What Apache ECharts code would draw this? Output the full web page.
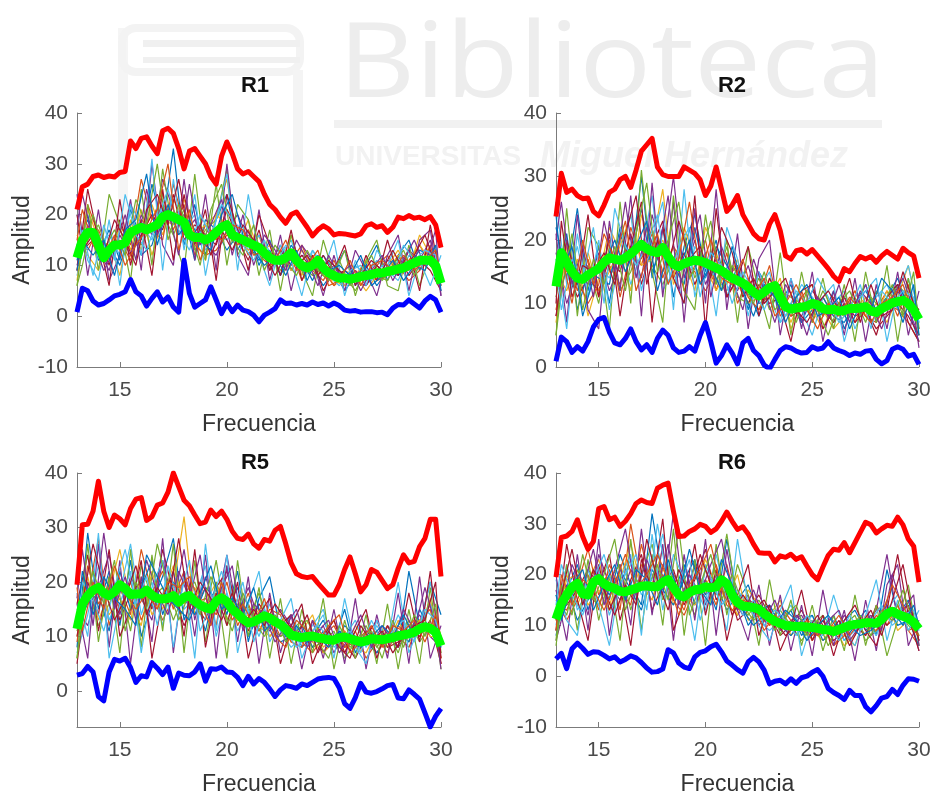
<!DOCTYPE html>
<html>
<head>
<meta charset="utf-8">
<title>Amplitud vs Frecuencia</title>
<script src="https://cdn.jsdelivr.net/npm/echarts@6/dist/echarts.min.js"></script>
<style>
  html, body { margin: 0; padding: 0; background: #ffffff; }
  #chart { width: 935px; height: 797px; }
</style>
</head>
<body>
<div id="chart"></div>
<script>
// Frequency grids (Hz): fine grid for the envelope/mean curves, two interleaved coarse grids for single trials
const freqFine = [13,13.25,13.5,13.75,14,14.25,14.5,14.75,15,15.25,15.5,15.75,16,16.25,16.5,16.75,17,17.25,17.5,17.75,
  18,18.25,18.5,18.75,19,19.25,19.5,19.75,20,20.25,20.5,20.75,21,21.25,21.5,21.75,22,22.25,22.5,22.75,
  23,23.25,23.5,23.75,24,24.25,24.5,24.75,25,25.25,25.5,25.75,26,26.25,26.5,26.75,27,27.25,27.5,27.75,
  28,28.25,28.5,28.75,29,29.25,29.5,29.75,30];
const freqCoarse = [13,13.5,14,14.5,15,15.5,16,16.5,17,17.5,18,18.5,19,19.5,20,20.5,21,21.5,22,22.5,
  23,23.5,24,24.5,25,25.5,26,26.5,27,27.5,28,28.5,29,29.5,30];
const freqShifted = [13,13.25,13.75,14.25,14.75,15.25,15.75,16.25,16.75,17.25,17.75,18.25,18.75,19.25,19.75,20.25,
  20.75,21.25,21.75,22.25,22.75,23.25,23.75,24.25,24.75,25.25,25.75,26.25,26.75,27.25,27.75,28.25,28.75,29.25,29.75,30];

const panelNames = ['R1', 'R2', 'R5', 'R6'];
const xTicks = [15, 20, 25, 30];
const yTicksR1 = [-10, 0, 10, 20, 30, 40];
const yTicksR2 = [0, 10, 20, 30, 40];
const yTicksR5 = [0, 10, 20, 30, 40];
const yTicksR6 = [-10, 0, 10, 20, 30, 40];
const yRangeR1 = [-10, 40];
const yRangeR2 = [0, 40];
const yRangeR5 = [-6.6, 40];
const yRangeR6 = [-10, 40];

// ---------- R1 ----------
const r1Upper = [21,25.5,26,27.5,27.8,27.3,27.6,27.4,28.3,28.5,34.5,33,35,35.3,33.5,32,36.5,37,36,33,
  29,32.5,33,31.5,30,27.5,26,31.5,34.3,32,29,28,28.5,27.5,26.5,24,22,21,19.5,18.3,
  20,20.5,19,17.5,15.8,17,17.8,17.2,16,16.3,16.2,16,15.8,16.2,17.8,18.2,17.5,17.8,16.5,17.5,
  19.5,19.2,19.8,19.3,19.5,19,19.6,18,13.5];
const r1Mean = [11.5,15,16.5,16.5,14,11.5,13,14,14,14.5,16.5,17,17.5,17,17.5,18,19.5,20,19.5,19,
  18.5,16,15.5,15.5,15,15.5,16.5,17.5,18,16,15.5,15,14.5,14,13.5,12.5,11.5,11,11,11.5,
  12.5,11,10,9.5,10,11,9.5,8.5,8,7.5,7.5,7.3,7.5,7.8,8,8.2,8.5,8.5,8.8,9,
  9.3,9.5,10,10.5,11,11,11,10,6.5];
const r1Lower = [0.8,5.5,5,3,2.2,2.5,3.2,4,4.3,4.8,7.2,4.8,4,2,3.5,4.8,2.8,3.8,1.8,0.8,
  11,4.5,1.8,2.5,3.2,5.8,3.2,0.5,2.5,0.9,2.2,1.2,0.9,0.2,-1.1,0.2,0.8,1.5,3.2,2.5,
  2.6,2.2,2.5,2.2,2.8,2.3,2.6,2,2.6,2.1,1.2,1,1.1,0.8,0.9,0.9,0.7,0.8,0.3,1.6,
  2.3,2.2,3.2,2.4,1.6,3,3.9,3.2,0.8];
const r1Trials = [
  [14,19,12,17,11, 21,15,26,18,33, 14,22,12,19,24, 13,17,10,15,8, 14,11,7,12,9, 13,6,10,14,7, 12,15,9,13,5],
  [9,22,16,11,18, 14,27,19,24,17, 22,12,18,15,21, 17,12,16,9,13, 11,14,9,7,11, 6,9,7,10,12, 8,11,14,10,7],
  [16,12,9,15,8, 19,13,22,16,23, 19,15,11,20,27, 14,19,12,14,10, 16,8,12,10,6, 9,8,11,7,10, 13,9,16,12,8],
  [10,18,13,9,16, 12,20,16,27,21, 16,19,14,12,17, 20,15,13,10,14, 9,12,11,8,10, 7,9,6,9,11, 10,13,11,15,6],
  [13,15,18,12,14, 17,14,18,20,16, 21,13,17,19,29, 12,16,14,12,9, 13,10,8,11,7, 8,5,9,8,7, 11,9,12,10,7],
  [8,17,14,16,12, 22,18,15,22,19, 17,20,13,16,15, 18,13,16,11,12, 15,9,13,10,8, 6,10,8,11,9, 7,12,10,11,6],
  [12,14,16,10,19, 13,16,20,17,24, 15,18,16,14,21, 15,11,17,9,13, 10,12,9,12,8, 9,7,6,10,8, 12,8,11,9,5],
  [11,20,11,14,10, 17,12,14,21,18, 20,11,19,17,13, 16,14,11,13,8, 12,9,10,6,9, 5,8,10,6,9, 8,10,13,12,7],
  [15,13,17,12,15, 11,19,17,15,26, 18,14,12,13,16, 14,17,12,10,11, 13,7,11,9,6, 8,7,9,7,8, 10,7,9,14,6],
  [7,21,15,14,17, 13,21,12,19,18, 23,16,18,20,18, 15,13,14,12,12, 9,13,10,8,7, 6,8,5,8,9, 12,10,14,11,8],
  [24,8,21,7,12, 23,9,30,14,10, 27,11,24,9,30, 12,8,21,7,16, 5,14,11,4,12, 5,13,9,4,12, 16,5,15,17,4],
  [6,22,9,24,18, 7,25,10,29,16, 9,28,11,26,10, 22,19,8,17,5, 16,9,4,15,8, 13,4,11,15,6, 5,14,6,12,9],
  [20,11,7,19,6, 22,12,31,9,27, 13,24,8,19,28, 9,24,12,6,14, 11,4,13,9,15, 4,11,6,13,10, 15,4,11,6,12],
  [9,25,15,6,23, 10,19,8,25,11, 24,14,21,7,24, 17,9,20,14,8, 17,7,12,5,9, 14,6,12,7,15, 8,13,5,18,7]
];
const r1TrialsShifted = [
  [18,24,15,9,13, 20,11,25,16,21, 12,26,14,18,23, 12,20,10,16,13, 9,15,11,6,12, 8,10,5,9,12, 7,11,15,10,17, 4],
  [6,10,20,13,17, 12,23,18,30,15, 22,17,10,21,26, 15,12,18,9,14, 11,8,13,9,7, 11,6,9,12,7, 10,13,8,12,9, 6],
  [12,17,8,18,11, 24,16,13,19,25, 17,13,20,16,22, 19,14,11,15,10, 14,12,9,10,8, 6,9,10,7,10, 8,14,11,13,12, 8],
  [20,13,16,12,19, 15,10,21,24,18, 27,15,18,12,17, 13,18,15,12,8, 12,10,12,8,11, 9,7,8,11,9, 13,9,12,16,10, 7],
  [9,15,12,15,8, 17,19,28,14,22, 16,19,15,13,20, 24,16,13,10,12, 8,13,7,12,9, 10,8,12,6,8, 11,7,10,9,14, 5],
  [15,21,14,11,16, 10,14,17,21,30, 13,21,11,17,15, 18,17,12,13,11, 15,9,10,13,6, 7,11,6,10,11, 9,12,9,11,13, 8]
];

// ---------- R2 ----------
const r2Upper = [23.7,30.5,27.5,28,27,26.5,26.6,24.5,23.8,25.5,27.5,28,29.5,30,28.3,31,34,35,36,31.5,
  30.3,30,30,30,31.5,31,30.5,29.5,27,28.5,31.5,28,24.5,25.5,27,24,22.5,21,20.2,20,
  22.5,24,21.5,17.5,17,18.3,18.5,17.8,18.5,17.5,16.5,15.5,14.3,13.5,15.5,15,16.3,17.4,17,17.4,
  16.5,17.5,18.2,17.6,17,18.7,18,17.5,14];
const r2Mean = [12.7,18,16.5,15,14,13.8,14.5,15,15.5,16.5,17.2,17,16.8,17.2,17.8,18.6,19.3,18.6,18.2,18,
  18.8,17.4,16.2,15.8,16.3,16.6,16.8,16.7,16.4,16,15.6,15.2,14.6,14,13.6,13.2,12.6,11.8,11.2,11.8,
  12.5,12.8,11,9.5,9.1,9.3,9.4,9.6,10,9.8,9.2,9,9.1,8.8,8.9,9.2,9.2,9.3,9.5,8.8,
  8.6,9.2,9.6,10.1,10.3,10.5,10,9,7.5];
const r2Lower = [0.9,4.7,4,2.3,3.2,2.5,4,6.3,7.5,7.8,5.5,3.8,3.5,4.5,6,4,2.7,3.5,2.3,4.5,
  5.8,5,3,2.3,2.5,3.2,2.5,5,7,4,0.6,1.8,3.5,2.2,0.5,3.8,4.5,2.6,1.8,0.3,
  -0.3,1.2,2.6,3.2,3,2.5,2.2,2.3,3.2,2.8,3,4,3,2.6,2.3,1.8,2.2,2,2.5,2.6,
  1.2,0.5,1,2.8,3.2,2.8,1.7,2,0.4];
const r2Trials = [
  [22,14,25,12,19, 10,21,16,30,14, 22,11,19,24,15, 20,11,16,9,15, 12,10,13,7,11, 8,12,6,10,13, 7,11,14,9,4],
  [9,18,12,17,11, 16,13,22,17,21, 15,19,12,16,20, 12,18,10,14,11, 16,8,10,12,7, 11,8,10,7,11, 9,12,8,13,6],
  [15,12,17,8,14, 22,18,12,24,19, 28,13,17,12,22, 18,13,17,11,9, 14,12,7,11,9, 6,10,9,12,8, 10,7,11,16,8],
  [18,10,15,13,18, 12,16,19,14,24, 17,30,14,20,13, 17,15,12,16,10, 11,13,9,8,12, 10,7,11,9,13, 8,10,12,9,5],
  [11,20,13,16,10, 19,12,15,20,16, 13,17,21,14,18, 13,19,11,10,14, 9,12,11,10,8, 12,9,8,11,7, 12,9,13,11,6],
  [26,13,19,11,16, 14,20,13,18,27, 12,15,10,19,16, 14,12,15,13,12, 15,7,9,13,11, 8,10,12,6,10, 11,13,9,14,7],
  [8,16,11,14,12, 17,15,21,13,19, 23,14,18,13,17, 16,11,14,10,13, 10,11,8,9,10, 9,7,10,8,9, 6,8,10,8,5],
  [13,21,9,15,14, 13,22,17,25,15, 19,16,13,22,14, 19,16,13,12,8, 13,9,10,7,9, 11,8,7,10,12, 9,11,13,10,9],
  [17,15,14,10,13, 20,11,18,16,22, 14,19,16,15,12, 15,14,16,11,9, 12,10,8,11,13, 8,11,9,12,8, 7,10,9,7,4],
  [7,19,13,18,12, 15,19,24,16,17, 20,14,22,17,16, 12,15,13,10,11, 11,14,6,10,9, 9,6,8,9,11, 8,12,10,11,8],
  [21,7,24,9,6, 23,12,27,8,29, 11,26,7,25,10, 28,9,21,6,17, 20,5,14,6,15, 4,12,5,14,4, 13,6,15,5,12],
  [5,25,8,22,19, 6,26,10,31,15, 7,27,12,9,24, 13,20,7,19,12, 6,18,5,15,7, 14,6,13,4,15, 7,16,4,14,5],
  [17,6,21,11,20, 9,17,24,12,20, 26,9,28,11,18, 8,22,17,8,15, 11,7,14,9,5, 11,13,4,10,12, 14,4,12,16,8],
  [8,20,13,24,11, 21,8,19,26,7, 22,14,10,27,6, 25,11,14,19,8, 14,10,4,12,13, 6,9,11,7,9, 5,11,13,7,4]
];
const r2TrialsShifted = [
  [20,26,13,19,11, 23,15,26,14,22, 17,27,12,18,24, 11,19,14,9,17, 12,7,13,10,5, 11,8,13,7,12, 10,6,11,14,9, 3],
  [5,12,21,9,17, 13,19,12,21,29, 15,20,26,14,17, 23,12,16,13,10, 15,9,11,7,12, 9,5,10,12,8, 11,9,13,8,15, 6],
  [16,9,17,14,22, 10,25,19,16,19, 24,13,19,22,11, 18,16,10,15,12, 9,13,8,12,10, 14,11,7,9,13, 6,12,10,12,11, 7],
  [10,23,11,16,15, 18,13,21,27,13, 20,16,23,17,19, 14,22,18,11,14, 10,12,14,9,7, 10,12,9,14,7, 13,8,9,15,10, 9],
  [24,15,19,8,14, 16,20,15,19,23, 12,18,15,20,13, 16,12,19,12,8, 13,11,7,11,13, 8,9,11,6,10, 9,14,12,7,13, 5],
  [13,18,10,20,13, 21,17,23,12,17, 21,13,17,26,15, 20,14,13,17,11, 14,8,10,13,9, 6,10,8,11,9, 7,10,11,13,8, 8]
];

// ---------- R5 ----------
const r5Upper = [19.5,30.5,30.6,33,38.5,33,30,32.3,31.6,30.5,33.5,35.2,35.5,31.3,32,34.1,34.5,36.5,40,37.5,
  35,34,32.3,30.7,31,33.2,32,33,31.5,29.3,28,27.8,28.8,27,26.2,27.8,27.5,29.5,30.2,27,
  23.5,21.5,21,20.8,21,19.8,18.7,17.6,17.6,19.5,22.3,24.6,21.5,18.2,19.5,22.3,21.8,20.3,18.8,19.5,
  22.5,25,23.5,23.8,26.5,28,31.5,31.5,21];
const r5Mean = [11.4,16,17.5,18.5,19,18,17.5,18.2,19.5,18.8,17.7,17.8,17.8,18.5,17.6,17,16.9,17,17.5,16.3,
  17.2,17.5,16.5,15.8,15.3,15,16.5,17.1,16.4,15,14.2,13.2,12.5,12.7,13.2,13.8,13.4,12.7,12.2,11.4,
  10.3,10,9.8,10,10.1,9.8,9.6,9.4,9.3,9.8,9.9,9.6,9.3,9,9.2,9.6,9.5,9.4,9.6,9.8,
  10.1,10.3,10.5,10.8,11.4,11.8,11.5,10.8,8.3];
const r5Lower = [2.9,3.2,4.5,3.5,-1,-1.8,3.5,5.8,5.5,6,4.3,1.6,2.8,2.6,5.2,4.2,3,4.4,0.5,3.3,
  2.9,2.8,3.5,5,1.8,4.1,4,4.4,3.5,3.4,2.5,1,2.7,1.3,2.3,1.6,0.4,-1,0.2,1,
  0.8,0.5,1.3,1,1.6,2.2,2.4,2.5,2.3,0.6,-2.3,-3.2,-1.2,1.4,-0.2,-0.4,-0.1,0.4,1,1.2,
  -1.3,-1.4,0.2,-0.6,-1.5,-4,-6.6,-4.6,-3.2];
const r5Trials = [
  [8,29,15,22,12, 24,10,16,21,28, 13,18,11,20,14, 22,9,17,21,11, 14,8,10,13,9, 15,7,11,9,10, 8,22,12,20,14],
  [13,17,28,12,19, 14,26,18,13,17, 22,15,19,12,23, 13,18,11,14,10, 12,9,7,10,13, 8,11,6,9,12, 10,8,13,15,5],
  [10,21,13,18,26, 16,12,22,15,19, 32,14,16,20,13, 17,12,15,10,13, 9,11,14,8,10, 7,12,9,11,8, 13,9,11,17,6],
  [15,12,19,25,14, 21,17,13,24,16, 26,13,21,15,25, 14,19,13,11,15, 12,10,9,12,7, 11,8,10,7,10, 8,11,14,10,8],
  [11,19,12,16,20, 11,23,17,19,13, 18,20,14,24,12, 16,13,18,12,10, 11,13,8,9,11, 6,9,12,8,11, 7,13,9,12,7],
  [7,14,23,13,18, 27,14,20,12,22, 15,17,23,10,18, 11,15,10,16,11, 8,10,12,15,8, 10,13,8,12,9, 14,10,12,20,9],
  [16,25,11,21,13, 18,20,15,26,18, 12,16,13,19,22, 15,11,16,13,12, 14,9,11,7,10, 9,6,10,13,8, 9,12,10,13,5],
  [12,16,18,11,22, 15,19,24,14,20, 17,14,19,17,15, 19,10,14,12,9, 10,12,8,11,9, 12,10,9,7,10, 11,9,15,11,8],
  [9,23,16,19,15, 20,13,18,22,15, 21,16,17,14,20, 12,16,11,15,14, 9,8,13,10,12, 8,9,11,10,7, 12,10,11,16,6],
  [14,18,20,14,17, 13,21,14,17,23, 16,19,15,18,17, 13,14,12,10,12, 11,10,9,7,9, 11,8,7,11,9, 10,11,13,10,10],
  [16,6,27,8,24, 5,21,9,28,7, 22,10,25,6,23, 9,21,5,18,7, 14,4,13,6,15, 5,17,4,14,6, 18,5,21,6,12],
  [6,27,9,21,7, 26,8,25,11,27, 7,24,9,20,6, 24,10,19,6,17, 5,15,7,17,4, 13,6,14,5,16, 4,15,5,19,4],
  [18,10,29,6,16, 22,7,19,24,8, 21,6,27,11,25, 7,16,22,9,13, 17,6,11,14,6, 17,8,5,13,9, 20,7,12,16,9],
  [5,20,14,26,10, 15,24,6,17,22, 10,26,8,18,12, 20,6,14,17,5, 12,16,5,10,13, 7,11,15,6,12, 8,18,9,22,5]
];
const r5TrialsShifted = [
  [17,26,12,29,15, 21,13,24,18,14, 22,17,25,12,19, 23,11,16,14,9, 12,15,8,11,13, 7,10,14,8,12, 9,15,11,19,12, 4],
  [6,13,22,16,24, 11,20,15,27,19, 13,18,14,21,16, 11,18,13,10,14, 9,11,13,9,6, 12,8,10,11,6, 13,8,14,10,16, 7],
  [14,20,17,11,19, 26,16,21,12,23, 16,24,11,16,22, 14,20,9,15,12, 11,8,10,12,10, 9,11,7,13,9, 11,13,9,15,13, 9],
  [10,16,27,19,13, 17,23,14,19,16, 28,15,20,17,13, 18,12,15,12,16, 13,10,14,7,11, 8,6,12,9,11, 7,10,12,13,20, 6],
  [12,22,14,21,17, 15,12,25,21,17, 15,13,18,23,15, 17,14,19,11,13, 10,12,9,10,8, 11,9,8,10,12, 10,14,10,12,11, 8],
  [19,11,20,15,23, 18,15,18,15,20, 19,21,16,12,20, 13,16,12,17,10, 8,13,11,9,12, 14,7,9,12,8, 12,11,13,9,14, 10]
];

// ---------- R6 ----------
const r6Upper = [19.5,27.3,27.6,28.5,30.8,27.5,25,26.5,33,33.4,30.8,31.3,29.5,30.5,32,34,34.7,34.2,34,37,
  37.6,38,32.5,27.5,27.6,28.5,29,29.9,29.5,28.3,29,30.5,32.3,30.5,28.9,29.4,28,26,24.3,24.2,
  24.2,22.5,23.7,23.4,24,23,23.5,21.7,20,19,21.5,23.8,25,24.8,26.3,24.3,26.3,28.3,30.3,29.8,
  28.2,29,29.7,29.5,31.3,29.8,27,25.6,18.5];
const r6Mean = [11.2,14.3,16,17.5,18.3,16.2,16,18.5,19.2,18.2,17.6,17.3,16.7,16.6,17,17.3,17.7,17.8,17.6,17.6,
  18.5,19,17.5,16,15.6,16.5,17,17.1,17.6,17.4,17.6,19,18.2,16,14.5,13.8,13.7,13.5,13.2,12.3,
  11.5,10.8,10.4,10,9.9,9.8,9.8,9.7,9.6,9.4,9.2,9.1,8.8,9.2,9.6,10,10.2,10.3,10.5,10.5,
  10.4,11.2,12.3,12.8,12.2,11.8,11.4,10.6,9.3];
const r6Lower = [3.4,4.5,1.5,5.4,6.5,5.5,4.3,4.8,4.7,4.1,3.4,3.8,2.8,3.3,4,3.6,2.7,1.6,0.8,0.9,
  1.4,5.2,4.6,2.6,1.8,1.5,3.8,4.7,5,5.8,6.3,4.8,3,2.2,1.3,0.6,2.8,3.7,2.8,1.2,
  -1.5,-1,-0.8,-1.5,-0.5,-1.4,-0.3,0,0.8,1.3,0,-2.4,-3.2,-3.8,-4.6,-2.8,-3.8,-3.8,-6,-7,
  -5.8,-4.3,-4,-2.6,-3.6,-1.8,-0.5,-0.6,-1];
const r6Trials = [
  [9,17,22,13,20, 15,24,18,14,32, 19,16,22,14,19, 13,27,15,18,12, 14,10,13,8,11, 9,12,7,10,13, 8,21,12,15,7],
  [14,13,18,25,16, 21,13,30,18,15, 22,17,13,20,16, 22,14,12,15,14, 10,12,9,11,7, 10,6,9,11,8, 12,10,14,9,6],
  [12,20,14,19,23, 14,20,16,22,18, 25,14,19,16,23, 18,15,20,11,13, 12,15,8,10,9, 7,10,8,6,12, 10,15,9,11,8],
  [7,15,19,12,24, 18,15,21,17,23, 16,32,15,22,14, 20,17,13,16,10, 13,9,11,12,8, 11,8,12,9,10, 13,24,11,13,5],
  [16,12,21,16,14, 19,22,13,20,26, 15,20,17,12,21, 16,28,14,12,15, 11,13,10,7,10, 12,9,10,12,7, 9,12,13,10,8],
  [10,22,13,17,21, 12,18,23,16,19, 28,16,21,18,13, 24,15,17,14,11, 9,11,14,9,12, 8,11,7,9,11, 8,13,16,12,9],
  [13,14,17,21,18, 24,11,19,24,13, 18,21,14,19,25, 15,19,11,13,16, 12,8,10,13,9, 11,7,9,10,8, 14,10,12,14,7],
  [8,18,11,15,19, 16,21,17,13,21, 17,14,19,23,16, 18,13,16,10,13, 14,10,8,11,12, 7,9,11,13,9, 11,14,10,11,6],
  [15,11,15,20,13, 22,17,14,26,17, 20,15,12,17,19, 14,22,13,15,12, 10,14,11,9,8, 10,6,8,11,10, 9,12,14,9,10],
  [11,19,20,14,17, 13,19,26,18,15, 21,18,16,14,18, 21,17,12,17,14, 12,11,9,10,11, 9,10,6,8,12, 10,11,13,12,8],
  [17,7,24,9,27, 8,22,10,29,12, 26,7,24,11,27, 8,25,13,7,18, 6,16,5,14,4, 17,6,13,3,15, 5,18,22,6,11],
  [6,22,9,23,11, 20,7,27,9,24, 10,29,8,23,6, 26,12,22,16,6, 19,8,15,6,14, 5,12,5,16,6, 14,4,11,18,6],
  [19,11,8,21,14, 6,19,24,8,28, 13,24,19,7,22, 17,9,27,14,10, 7,13,18,4,11, 8,16,9,6,12, 19,7,15,9,13],
  [9,26,15,7,22, 13,18,6,23,17, 31,9,15,26,12, 21,7,16,22,8, 14,5,10,17,7, 12,4,11,14,9, 6,13,24,12,5]
];
const r6TrialsShifted = [
  [20,13,22,17,25, 14,21,29,16,23, 17,26,14,20,16, 22,27,16,12,17, 11,15,9,12,10, 8,11,13,7,10, 12,9,20,13,16, 6],
  [7,18,12,24,15, 20,27,13,19,17, 22,15,29,12,18, 24,15,20,14,11, 13,9,12,14,8, 11,6,10,9,12, 8,13,11,17,10, 8],
  [14,22,16,12,19, 24,16,20,24,13, 30,18,17,23,11, 19,14,17,12,15, 10,13,11,8,12, 9,10,7,12,9, 11,14,10,12,13, 9],
  [11,16,25,14,21, 17,12,18,14,27, 19,13,21,16,24, 18,20,12,16,13, 15,11,8,10,9, 12,8,11,6,10, 13,8,15,22,11, 7],
  [16,11,18,21,13, 18,22,15,21,19, 14,23,16,25,17, 14,23,18,13,10, 12,10,13,11,7, 10,12,9,10,8, 9,11,13,10,14, 10],
  [9,20,14,19,17, 13,18,24,17,20, 24,19,12,18,21, 26,17,13,15,14, 9,12,10,9,11, 8,9,12,8,11, 10,12,18,14,9, 8]
];

// ---------- layout & styling ----------
const FONT = '"Liberation Sans", Arial, Helvetica, sans-serif';
const trialPalette = ['#0072BD', '#D95319', '#EDB120', '#7E2F8E', '#77AC30', '#4DBEEE', '#A2142F'];
const gridBoxes = [
  { left: 77, top: 113, width: 364, height: 254 },
  { left: 556, top: 113, width: 363, height: 254 },
  { left: 77, top: 473, width: 364, height: 255 },
  { left: 556, top: 473, width: 363, height: 255 }
];
const titleAnchors = [[255, 86], [732, 86], [255, 463], [732, 463]];

const panels = [
  { upper: r1Upper, mean: r1Mean, lower: r1Lower, trials: r1Trials, shifted: r1TrialsShifted, yRange: yRangeR1, yTicks: yTicksR1 },
  { upper: r2Upper, mean: r2Mean, lower: r2Lower, trials: r2Trials, shifted: r2TrialsShifted, yRange: yRangeR2, yTicks: yTicksR2 },
  { upper: r5Upper, mean: r5Mean, lower: r5Lower, trials: r5Trials, shifted: r5TrialsShifted, yRange: yRangeR5, yTicks: yTicksR5 },
  { upper: r6Upper, mean: r6Mean, lower: r6Lower, trials: r6Trials, shifted: r6TrialsShifted, yRange: yRangeR6, yTicks: yTicksR6 }
];

const pair = (xs, ys) => xs.map((x, i) => [x, ys[i]]);
const axisGray = '#7b7b7b';
const labelGray = '#4a4a4a';

const grid = [], xAxis = [], yAxis = [], series = [];
const trialSeries = (i, xs, ys, color) => ({
  type: 'line', xAxisIndex: i, yAxisIndex: i, data: pair(xs, ys),
  symbol: 'none', silent: true, z: 2, lineStyle: { width: 1.2, color: color }
});

panels.forEach((p, i) => {
  grid.push(Object.assign({ containLabel: false }, gridBoxes[i]));
  xAxis.push({
    gridIndex: i, type: 'value', min: 13, max: 30,
    name: 'Frecuencia', nameLocation: 'middle', nameGap: 46,
    nameTextStyle: { fontFamily: FONT, fontSize: 23, color: '#333333' },
    axisLine: { show: true, onZero: false, lineStyle: { color: axisGray, width: 1 } },
    axisTick: { show: true, inside: true, length: 5, customValues: xTicks, lineStyle: { color: axisGray } },
    axisLabel: { customValues: xTicks, fontFamily: FONT, fontSize: 21, color: labelGray, margin: 13 },
    splitLine: { show: false }
  });
  yAxis.push({
    gridIndex: i, type: 'value', min: p.yRange[0], max: p.yRange[1],
    name: 'Amplitud', nameLocation: 'middle', nameGap: 43,
    nameTextStyle: { fontFamily: FONT, fontSize: 23, color: '#333333' },
    axisLine: { show: true, onZero: false, lineStyle: { color: axisGray, width: 1 } },
    axisTick: { show: true, inside: true, length: 5, customValues: p.yTicks, lineStyle: { color: axisGray } },
    axisLabel: { customValues: p.yTicks, fontFamily: FONT, fontSize: 21, color: labelGray, margin: 9 },
    splitLine: { show: false }
  });
  p.trials.forEach((t, j) => series.push(trialSeries(i, freqCoarse, t, trialPalette[j % 7])));
  p.shifted.forEach((t, j) => series.push(trialSeries(i, freqShifted, t, trialPalette[(j + 3) % 7])));
  series.push({
    type: 'line', xAxisIndex: i, yAxisIndex: i, data: pair(freqFine, p.upper),
    symbol: 'none', silent: true, z: 3, lineStyle: { width: 5, color: '#ff0000', join: 'round' }
  });
  series.push({
    type: 'line', xAxisIndex: i, yAxisIndex: i, data: pair(freqFine, p.lower),
    symbol: 'none', silent: true, z: 3, lineStyle: { width: 5, color: '#0000ff', join: 'round' }
  });
  series.push({
    type: 'line', xAxisIndex: i, yAxisIndex: i, data: pair(freqFine, p.mean),
    symbol: 'none', silent: true, z: 4, lineStyle: { width: 9, color: '#00ff00', join: 'round' }
  });
});

// faint library watermark behind the plots, plus the panel titles
const graphic = [
  { type: 'rect', z: -10, shape: { x: 118, y: 28, width: 10, height: 230 }, style: { fill: '#f5f5f5' } },
  { type: 'rect', z: -10, shape: { x: 122, y: 28, width: 178, height: 44, r: 14 },
    style: { fill: 'none', stroke: '#f3f3f3', lineWidth: 8 } },
  { type: 'rect', z: -10, shape: { x: 143, y: 40, width: 157, height: 7 }, style: { fill: '#f0f0f0' } },
  { type: 'rect', z: -10, shape: { x: 143, y: 57, width: 157, height: 6 }, style: { fill: '#f0f0f0' } },
  { type: 'rect', z: -10, shape: { x: 293, y: 70, width: 10, height: 97 }, style: { fill: '#f4f4f4' } },
  { type: 'text', z: -10, x: 338, y: 67, scaleX: 1.14, scaleY: 1,
    style: { text: 'Biblioteca', x: 0, y: 0, textVerticalAlign: 'middle',
      font: '400 105px "Open Sans", Lato, sans-serif', fill: '#ededed' } },
  { type: 'rect', z: -10, shape: { x: 334, y: 120, width: 548, height: 8 }, style: { fill: '#f1f1f1' } },
  { type: 'text', z: -10, style: { text: 'UNIVERSITAS', x: 335, y: 157, textVerticalAlign: 'middle',
      font: 'bold 28px ' + FONT, fill: '#f2f2f2' } },
  { type: 'text', z: -10, style: { text: 'Miguel Hernández', x: 540, y: 157, textVerticalAlign: 'middle',
      font: 'italic bold 36px ' + FONT, fill: '#f2f2f2' } }
];
panelNames.forEach((name, i) => {
  graphic.push({
    type: 'text', z: 10,
    style: { text: name, x: titleAnchors[i][0], y: titleAnchors[i][1], textAlign: 'center',
      textVerticalAlign: 'middle', font: 'bold 22px ' + FONT, fill: '#111111' }
  });
});

const chart = echarts.init(document.getElementById('chart'), null, { renderer: 'canvas' });
chart.setOption({
  animation: false,
  backgroundColor: '#ffffff',
  graphic: graphic,
  grid: grid,
  xAxis: xAxis,
  yAxis: yAxis,
  series: series
});
</script>
</body>
</html>
